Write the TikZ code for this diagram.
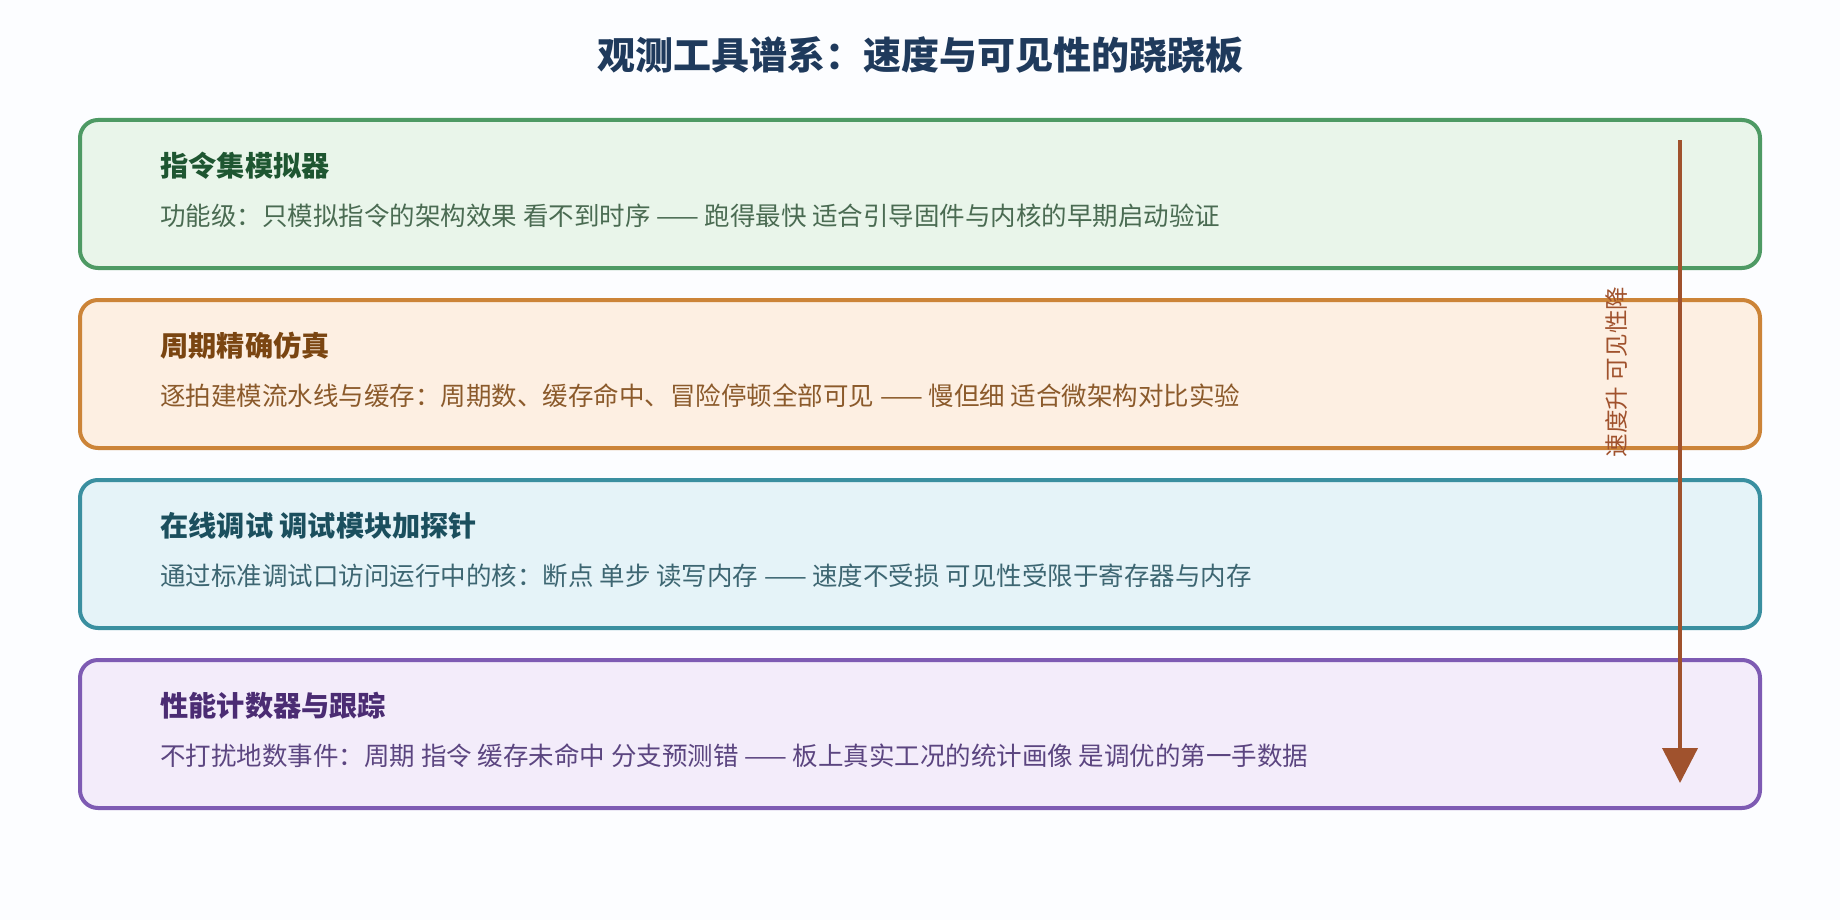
\documentclass[tikz,border=0pt]{standalone}
\usepackage{fontspec}
\setmainfont{Noto Sans CJK SC}
\usetikzlibrary{arrows.meta,positioning}

\definecolor{bgpaper}{HTML}{FCFDFF}
\definecolor{headcol}{HTML}{1F3A5C}
\definecolor{arrowcol}{HTML}{A0522D}
\definecolor{isafill}{HTML}{E9F5EA}
\definecolor{isaline}{HTML}{4E9A64}
\definecolor{isahead}{HTML}{1E5631}
\definecolor{isatext}{HTML}{4A6B52}
\definecolor{cycfill}{HTML}{FDEFE2}
\definecolor{cycline}{HTML}{CC8438}
\definecolor{cychead}{HTML}{7A4511}
\definecolor{cyctext}{HTML}{8B5A2B}
\definecolor{dbgfill}{HTML}{E5F3F8}
\definecolor{dbgline}{HTML}{3A8FA0}
\definecolor{dbghead}{HTML}{1B4F5E}
\definecolor{dbgtext}{HTML}{3D6672}
\definecolor{pmufill}{HTML}{F3ECFA}
\definecolor{pmuline}{HTML}{7E5BB3}
\definecolor{pmuhead}{HTML}{4B2C73}
\definecolor{pmutext}{HTML}{5B4580}

\begin{document}
\begin{tikzpicture}[>={Triangle[length=17.5pt,width=17.5pt]}]
  \tikzset{tier/.style= {draw, rectangle, rounded corners=9pt, line width=2pt, outer sep=0pt,
      minimum width=840pt, minimum height=74pt},
    tierhead/.style= {anchor=west, inner sep=0pt, font=\fontsize{14.1pt}{16pt}\selectfont\bfseries},
    tiertext/.style= {anchor=west, inner sep=0pt, font=\fontsize{12.75pt}{15pt}\selectfont}}
  \fill[bgpaper] (0,0) rectangle (920pt,-460pt);
  \useasboundingbox (0,0) rectangle (920pt,-460pt);

  \node[font=\fontsize{19pt}{22pt}\selectfont\bfseries, text=headcol] (heading) at (460pt,-27.5pt)
    {观测工具谱系：速度与可见性的跷跷板};

  \node[tier, draw=isaline, fill=isafill] (isa) at (460pt,-97pt) {};
  \node[tier, draw=cycline, fill=cycfill, below=16pt of isa] (cyc) {};
  \node[tier, draw=dbgline, fill=dbgfill, below=16pt of cyc] (dbg) {};
  \node[tier, draw=pmuline, fill=pmufill, below=16pt of dbg] (pmu) {};

  \node[tierhead, text=isahead] (isahd) at ([xshift=40pt,yshift=14pt]isa.west) {指令集模拟器};
  \node[tiertext, text=isatext] (isatx) at ([xshift=40pt,yshift=-11pt]isa.west)
    {功能级：只模拟指令的架构效果 看不到时序 —— 跑得最快 适合引导固件与内核的早期启动验证};
  \node[tierhead, text=cychead] (cychd) at ([xshift=40pt,yshift=14pt]cyc.west) {周期精确仿真};
  \node[tiertext, text=cyctext] (cyctx) at ([xshift=40pt,yshift=-11pt]cyc.west)
    {逐拍建模流水线与缓存：周期数、缓存命中、冒险停顿全部可见 —— 慢但细 适合微架构对比实验};
  \node[tierhead, text=dbghead] (dbghd) at ([xshift=40pt,yshift=14pt]dbg.west) {在线调试 调试模块加探针};
  \node[tiertext, text=dbgtext] (dbgtx) at ([xshift=40pt,yshift=-11pt]dbg.west)
    {通过标准调试口访问运行中的核：断点 单步 读写内存 —— 速度不受损 可见性受限于寄存器与内存};
  \node[tierhead, text=pmuhead] (pmuhd) at ([xshift=40pt,yshift=14pt]pmu.west) {性能计数器与跟踪};
  \node[tiertext, text=pmutext] (pmutx) at ([xshift=40pt,yshift=-11pt]pmu.west)
    {不打扰地数事件：周期 指令 缓存未命中 分支预测错 —— 板上真实工况的统计画像 是调优的第一手数据};

  % speed / visibility axis
  \coordinate (axtop) at (840pt,-70pt);
  \coordinate (axend) at (840pt,-391.5pt);
  \path[draw, ->, arrowcol, line width=2pt] (axtop) -- (axend);
  \node[rotate=90, text=arrowcol, font=\fontsize{11.8pt}{13pt}\selectfont] (axlabel) at (808pt,-186pt)
    {速度升 可见性降};
\end{tikzpicture}
\end{document}
